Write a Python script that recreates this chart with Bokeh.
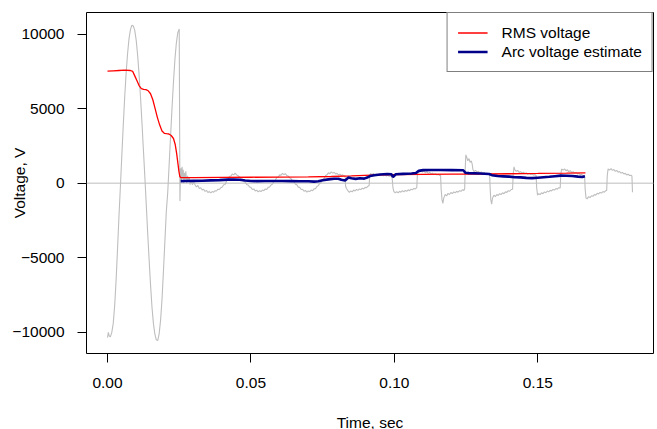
from bokeh.plotting import figure
from bokeh.models import Range1d, FixedTicker, Legend, LegendItem, Span
from bokeh.embed import file_html
from bokeh.resources import INLINE

# ---------------- data ----------------
wave_t = [
    0.0000, 0.0003, 0.0006, 0.0010, 0.0015, 0.0020, 0.0025, 0.0030, 0.0035, 0.0040,
    0.0045, 0.0050, 0.0055, 0.0060, 0.0065, 0.0070, 0.0075, 0.0080, 0.0085, 0.0090,
    0.0095, 0.0100, 0.0105, 0.0110, 0.0115, 0.0120, 0.0125, 0.0130, 0.0135, 0.0140,
    0.0145, 0.0150, 0.0155, 0.0160, 0.0165, 0.0170, 0.0175, 0.0180, 0.0185, 0.0190,
    0.0195, 0.0200, 0.0205, 0.0210, 0.0215, 0.0220, 0.0225, 0.0230, 0.0235, 0.0240,
    0.0245, 0.0250, 0.02525,
    0.0254, 0.0256, 0.0258, 0.0260, 0.0262, 0.0264, 0.0266, 0.0268, 0.0270, 0.0273,
    0.0276, 0.0279, 0.0282, 0.0285, 0.0288, 0.0292, 0.0296, 0.0300, 0.0305, 0.0310,
    0.0315, 0.0320, 0.0325, 0.0330, 0.0335, 0.0340, 0.0345, 0.0350, 0.0355, 0.0360,
    0.0365, 0.0370, 0.0375, 0.0380, 0.0385, 0.0390, 0.0395, 0.0400, 0.0405, 0.0410,
    0.0415, 0.0420, 0.0425, 0.0430, 0.0435, 0.0440, 0.0445, 0.0450, 0.0455, 0.0460,
    0.0465, 0.0470, 0.0475, 0.0480, 0.0485, 0.0490, 0.0495, 0.0500, 0.0505, 0.0510,
    0.0515, 0.0520, 0.0525, 0.0530, 0.0535, 0.0540, 0.0545, 0.0550, 0.0555, 0.0560,
    0.0565, 0.0570, 0.0575, 0.0580, 0.0585, 0.0590, 0.0595, 0.0600, 0.0605, 0.0610,
    0.0615, 0.0620, 0.0625, 0.0630, 0.0635, 0.0640, 0.0645, 0.0650, 0.0655, 0.0660,
    0.0665, 0.0670, 0.0675, 0.0680, 0.0685, 0.0690, 0.0695, 0.0700, 0.0705, 0.0710,
    0.0715, 0.0720, 0.0725, 0.0730, 0.0735, 0.0740, 0.0745, 0.0750, 0.0755, 0.0760,
    0.0765, 0.0770, 0.0775, 0.0780, 0.0785, 0.0790, 0.0795, 0.0800, 0.0805, 0.0810,
    0.0815, 0.0820, 0.0825, 0.0828,
    0.0830, 0.0833, 0.0838, 0.0843, 0.0848, 0.0853, 0.0858, 0.0863, 0.0868, 0.0873,
    0.0878, 0.0883, 0.0888, 0.0893, 0.0898, 0.0903, 0.0908, 0.0912,
    0.0914, 0.0917, 0.0922, 0.0927, 0.0932, 0.0937, 0.0942, 0.0947, 0.0952, 0.0957,
    0.0962, 0.0967, 0.0972, 0.0977, 0.0982, 0.0987, 0.0992,
    0.0995, 0.0998, 0.1003, 0.1008, 0.1013, 0.1018, 0.1023, 0.1028, 0.1033, 0.1038,
    0.1043, 0.1048, 0.1053, 0.1058, 0.1063, 0.1068, 0.1073, 0.1078,
    0.1080, 0.1083, 0.1088, 0.1093, 0.1098, 0.1103, 0.1108, 0.1113, 0.1118, 0.1123,
    0.1128, 0.1133, 0.1138, 0.1143, 0.1148, 0.1153, 0.1158, 0.1161,
    0.1163, 0.1166, 0.1169, 0.1172, 0.1177, 0.1182, 0.1187, 0.1192, 0.1197, 0.1202,
    0.1207, 0.1212, 0.1217, 0.1222, 0.1227, 0.1232, 0.1237, 0.1242, 0.1245,
    0.1247, 0.1249, 0.1252, 0.1256, 0.1260, 0.1264, 0.1268, 0.1271, 0.1274, 0.1278,
    0.1283, 0.1288, 0.1293, 0.1298, 0.1303, 0.1308, 0.1313, 0.1318, 0.1323, 0.1328, 0.1332,
    0.1334, 0.1336, 0.1339, 0.1342, 0.1347, 0.1352, 0.1357, 0.1362, 0.1367, 0.1372,
    0.1377, 0.1382, 0.1387, 0.1392, 0.1397, 0.1402, 0.1407, 0.1412,
    0.1414, 0.1417, 0.1420, 0.1425, 0.1430, 0.1435, 0.1440, 0.1445, 0.1450, 0.1455,
    0.1460, 0.1465, 0.1470, 0.1475, 0.1480, 0.1485, 0.1490, 0.1494,
    0.1496, 0.1499, 0.1503, 0.1508, 0.1513, 0.1518, 0.1523, 0.1528, 0.1533, 0.1538,
    0.1543, 0.1548, 0.1553, 0.1558, 0.1563, 0.1568, 0.1573, 0.1578,
    0.1580, 0.1583, 0.1588, 0.1593, 0.1598, 0.1603, 0.1608, 0.1613, 0.1618, 0.1623,
    0.1628, 0.1633, 0.1638, 0.1643, 0.1648, 0.1653, 0.1658, 0.1663,
    0.1665, 0.1668, 0.1672, 0.1677, 0.1682, 0.1687, 0.1692, 0.1697, 0.1702, 0.1707,
    0.1712, 0.1717, 0.1722, 0.1727, 0.1732, 0.1737, 0.1740,
    0.1742, 0.1745, 0.1750, 0.1755, 0.1760, 0.1765, 0.1770, 0.1775, 0.1780, 0.1785,
    0.1790, 0.1795, 0.1800, 0.1805, 0.1810, 0.1815, 0.1820, 0.1825, 0.1828, 0.1830,
]
wave_v = [
    -10350, -10000, -10250, -10300, -10000, -9400, -8200, -6500, -4400, -2200,
    -200, 1900, 3900, 5800, 7400, 8700, 9700, 10300, 10600, 10550,
    10250, 9600, 8600, 7300, 5800, 4100, 2300, 500, -1400, -3300,
    -5100, -6800, -8300, -9400, -10100, -10500, -10550, -10100, -9200, -7800,
    -5900, -3900, -1900, -600, 1300, 3200, 5100, 6800, 8300, 9400,
    10100, 10350, -1200,
    300, 1000, 100, 1100, 300, 900, 0, 700, 200, 800,
    0, 500, 100, 400, -100, 200, -100, 100, -100, -250,
    -150, -350, -300, -450, -400, -550, -480, -620, -560, -650,
    -560, -600, -500, -520, -400, -420, -300, -250, -100, -80,
    150, 250, 450, 480, 620, 560, 680, 560, 500, 420,
    300, 280, 120, 80, -80, -120, -250, -280, -420, -380,
    -520, -470, -580, -500, -560, -460, -500, -380, -420, -280,
    -250, -120, -60, 120, 200, 380, 420, 560, 540, 660,
    580, 640, 520, 480, 360, 300, 140, 100, -60, -100,
    -260, -280, -420, -400, -540, -480, -600, -520, -560, -460,
    -500, -380, -360, -220, -160, 0, 60, 260, 320, 520,
    560, 700, 640, 760, 680, 720, 620, 660, 560, 600,
    520, 560, 480, 500,
    -200, -350, -500, -620, -520, -580, -460, -520, -420, -480,
    -380, -430, -330, -380, -280, -300, -200, -150,
    500, 650, 580, 660, 560, 620, 540, 600, 520, 580,
    500, 560, 480, 540, 460, 500, 420,
    -300, -550, -650, -560, -640, -540, -600, -500, -580, -480,
    -540, -440, -500, -400, -440, -350, -380, -300,
    500, 820, 760, 860, 740, 820, 700, 780, 660, 720,
    620, 680, 580, 640, 560, 600, 520, 540,
    -400, -1100, -1350, -1000, -750, -850, -680, -760, -620, -700,
    -580, -640, -540, -600, -500, -540, -440, -480, -380,
    1000, 1900, 1750, 1500, 1650, 1400, 1500, 1300, 900, 780,
    860, 740, 800, 700, 760, 660, 720, 620, 680, 600, 620,
    -400, -1100, -1400, -1000, -800, -900, -760, -820, -700, -760,
    -640, -700, -580, -620, -500, -540, -420, -400,
    600, 1100, 900, 800, 860, 720, 780, 680, 740, 640,
    700, 600, 660, 580, 620, 540, 580, 520,
    -300, -800, -700, -760, -640, -700, -580, -640, -520, -580,
    -480, -520, -420, -460, -360, -400, -300, -320,
    600, 950, 880, 960, 840, 900, 780, 840, 720, 780,
    680, 720, 620, 660, 560, 600, 500, 540,
    -400, -1000, -1050, -900, -960, -840, -880, -760, -800, -680,
    -720, -620, -660, -560, -600, -500, -480,
    500, 960, 880, 980, 860, 920, 800, 860, 740, 780,
    680, 720, 620, 660, 560, 600, 520, 540, 480, -600,
]

rms_t = [0.0000, 0.0020, 0.0040, 0.0060, 0.0080, 0.0088, 0.0095, 0.0102, 0.0110, 0.0118,
         0.0126, 0.0134, 0.0142, 0.0150, 0.0158, 0.0166, 0.0174, 0.0182, 0.0190, 0.0198,
         0.0206, 0.0214, 0.0222, 0.0230, 0.0236, 0.0241, 0.0245, 0.0249, 0.0252, 0.0256,
         0.0300, 0.0400, 0.0500, 0.0600, 0.0700, 0.0780, 0.0850, 0.0920, 0.1000, 0.1100,
         0.1200, 0.1330, 0.1400, 0.1500, 0.1600, 0.1666]
rms_v = [7520, 7540, 7560, 7580, 7560, 7500, 7200, 6900, 6550, 6350,
         6300, 6280, 6200, 6000, 5600, 5000, 4400, 3900, 3500, 3350,
         3320, 3300, 3200, 3000, 2600, 2000, 1400, 800, 450, 370,
         380, 390, 400, 415, 430, 450, 490, 545, 580, 600,
         610, 620, 635, 655, 680, 700]

arc_t = [0.0255, 0.0270, 0.0300, 0.0330, 0.0360, 0.0390, 0.0420, 0.0440, 0.0460, 0.0480,
         0.0500, 0.0520, 0.0550, 0.0580, 0.0610, 0.0640, 0.0670, 0.0700, 0.0720, 0.0735,
         0.0750, 0.0770, 0.0790, 0.0805, 0.0815, 0.0828, 0.0840, 0.0850, 0.0865, 0.0880,
         0.0895, 0.0905, 0.0915, 0.0930, 0.0950, 0.0975, 0.0990, 0.0995, 0.1005, 0.1030,
         0.1060, 0.1075, 0.1085, 0.1100, 0.1130, 0.1160, 0.1200, 0.1240, 0.1248, 0.1260,
         0.1300, 0.1330, 0.1340, 0.1360, 0.1380, 0.1400, 0.1420, 0.1440, 0.1460, 0.1480,
         0.1500, 0.1520, 0.1540, 0.1560, 0.1580, 0.1600, 0.1620, 0.1640, 0.1655, 0.1664]
arc_v = [140, 150, 160, 170, 190, 210, 240, 250, 230, 180,
         150, 140, 145, 150, 150, 140, 130, 130, 110, 130,
         200, 260, 300, 300, 230, 180, 380, 330, 290, 330,
         310, 380, 480, 540, 590, 620, 600, 420, 600, 630,
         650, 690, 830, 880, 890, 890, 880, 870, 700, 680,
         650, 620, 540, 480, 460, 440, 400, 390, 360, 340,
         370, 400, 430, 470, 510, 500, 480, 440, 420, 470]

x_ticks = [0.0, 0.05, 0.10, 0.15]
x_tick_labels = ["0.00", "0.05", "0.10", "0.15"]
y_ticks = [-10000, -5000, 0, 5000, 10000]
y_tick_labels = ["\u221210000", "\u22125000", "0", "5000", "10000"]
x_title = "Time, sec"
y_title = "Voltage, V"

FONT = "Liberation Sans"
FS = "15.5px"

# ---------------- figure ----------------
p = figure(frame_width=567, frame_height=341,
           min_border_left=86, min_border_top=12, min_border_right=4, min_border_bottom=76,
           x_range=Range1d(-0.00732, 0.19032), y_range=Range1d(-11420, 11450),
           output_backend="svg", toolbar_location=None)
p.background_fill_color = "white"
p.border_fill_color = "white"
p.outline_line_color = "black"
p.outline_line_width = 1
p.xgrid.visible = False
p.ygrid.visible = False

for ax, ticks, labels, title in ((p.xaxis[0], x_ticks, x_tick_labels, x_title),
                                 (p.yaxis[0], y_ticks, y_tick_labels, y_title)):
    ax.ticker = FixedTicker(ticks=ticks)
    ax.major_label_overrides = {t: l for t, l in zip(ticks, labels)}
    ax.axis_line_color = None
    ax.major_tick_out = 9
    ax.major_tick_in = 0
    ax.major_tick_line_color = "black"
    ax.minor_tick_line_color = None
    ax.major_label_text_font = FONT
    ax.major_label_text_font_size = FS
    ax.major_label_text_color = "black"
    ax.axis_label = title
    ax.axis_label_text_font = FONT
    ax.axis_label_text_font_size = FS
    ax.axis_label_text_font_style = "normal"
    ax.axis_label_text_color = "black"

p.xaxis[0].major_label_standoff = 15
p.yaxis[0].major_label_standoff = 13
p.xaxis[0].axis_label_standoff = 23
p.yaxis[0].axis_label_standoff = -19

zero = Span(location=0, dimension="width", line_color="#d3d3d3", line_width=1.5, level="underlay")
p.add_layout(zero)

p.line(wave_t, wave_v, line_color="#bebebe", line_width=1.1)
r_rms = p.line(rms_t, rms_v, line_color="#ff0000", line_width=1.3)
r_arc = p.line(arc_t, arc_v, line_color="#00008b", line_width=2.6)

legend = Legend(items=[LegendItem(label="RMS voltage", renderers=[r_rms]),
                       LegendItem(label="Arc voltage estimate", renderers=[r_arc])],
                location="top_right", margin=0, padding=10, spacing=0,
                label_height=19, glyph_height=19, glyph_width=30, label_standoff=14,
                label_text_font=FONT, label_text_font_size=FS, label_text_color="black",
                border_line_color="black", border_line_width=1,
                background_fill_color="white", background_fill_alpha=1.0)
p.add_layout(legend)

open("out.html", "w").write(file_html(p, INLINE))
